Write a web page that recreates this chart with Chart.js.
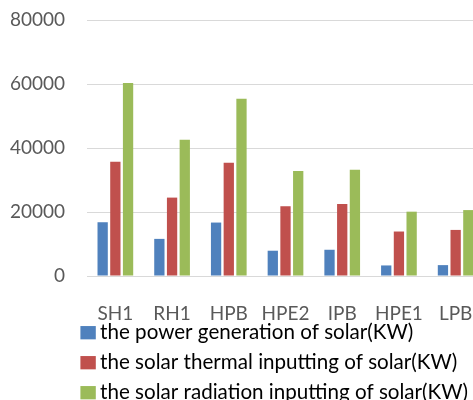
<!DOCTYPE html>
<html>
<head>
<meta charset="utf-8">
<script src="https://cdn.jsdelivr.net/npm/chart.js@4.4.0/dist/chart.umd.min.js"></script>
<style>
  html, body { margin: 0; padding: 0; background: #fff; overflow: hidden; }
  canvas { display: block; }
</style>
</head>
<body>
<canvas id="solar-chart" width="484" height="420"></canvas>
<script>
// categories and series
const categories = ['SH1', 'RH1', 'HPB', 'HPE2', 'IPB', 'HPE1', 'LPB'];
const powerGeneration = [16800, 11600, 16700, 7900, 8200, 3300, 3400];
const thermalInput = [35700, 24500, 35400, 21800, 22500, 13900, 14400];
const radiationInput = [60300, 42600, 55400, 32800, 33200, 20100, 20600];
const yTicks = [0, 20000, 40000, 60000, 80000];

const seriesNames = [
  'the power generation of solar(KW)',
  'the solar thermal inputting of solar(KW)',
  'the solar radiation inputting of solar(KW)'
];
const seriesColors = ['#4F81BD', '#C0504D', '#9BBB59'];

const textColor = '#595959';
const fontFamily = 'Lato, "Open Sans", sans-serif';

// pin the legend rows to the left and just under the axis labels, like the original
const legendShift = {
  id: 'legendShift',
  afterLayout(chart) {
    const lg = chart.legend;
    if (!lg) return;
    lg.left = 77;
    lg.top = 313;
    lg.bottom = lg.top + lg.height;
  }
};

const ctx = document.getElementById('solar-chart').getContext('2d');
new Chart(ctx, {
  type: 'bar',
  data: {
    labels: categories,
    datasets: [powerGeneration, thermalInput, radiationInput].map((values, i) => ({
      label: seriesNames[i],
      data: values,
      backgroundColor: seriesColors[i],
      borderWidth: 0,
      categoryPercentage: 0.672,
      barPercentage: 0.81
    }))
  },
  options: {
    responsive: false,
    animation: false,
    layout: { padding: 0 },
    plugins: {
      tooltip: { enabled: false },
      legend: {
        position: 'bottom',
        align: 'start',
        labels: {
          color: textColor,
          font: { family: fontFamily, size: 20.6 },
          padding: 9.4,
          boxWidth: 3.4,
          boxHeight: 1.3,
          generateLabels(chart) {
            // small box + thick stroke gives a 15x13 swatch sitting close to the text
            return chart.data.datasets.map((ds, i) => ({
              text: ds.label,
              fillStyle: ds.backgroundColor,
              strokeStyle: ds.backgroundColor,
              lineWidth: 12,
              lineJoin: 'miter',
              lineDash: [],
              hidden: false,
              datasetIndex: i
            }));
          }
        }
      }
    },
    scales: {
      x: {
        grid: { display: false },
        border: { display: false },
        ticks: {
          color: textColor,
          font: { family: fontFamily, size: 19 },
          padding: 18,
          autoSkip: false,
          maxRotation: 0
        },
        afterFit(scale) {
          scale.height = 44;
          scale.paddingLeft = 0;
          scale.paddingRight = 0;
        }
      },
      y: {
        min: 0,
        max: 80000,
        grid: { color: '#D9D9D9', lineWidth: 1, drawTicks: false },
        border: { display: false },
        afterBuildTicks(scale) {
          scale.ticks = yTicks.map(v => ({ value: v }));
        },
        ticks: {
          color: textColor,
          font: { family: fontFamily, size: 19 },
          padding: 22,
          callback: (value) => String(value)
        },
        afterFit(scale) {
          scale.width = 87;
          scale.paddingTop = 20;
          scale.paddingBottom = 0;
        }
      }
    }
  },
  plugins: [legendShift]
});
</script>
</body>
</html>
